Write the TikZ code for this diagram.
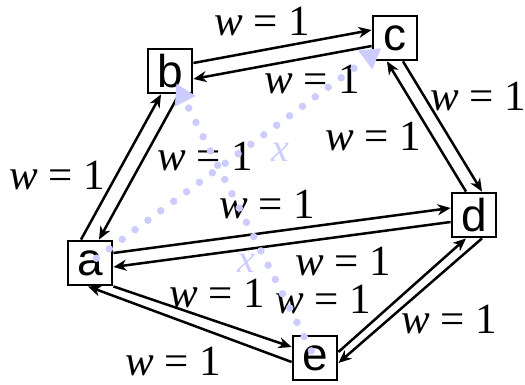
\documentclass[tikz,border=0pt]{standalone}
\usepackage{fontspec}
\setmainfont{Liberation Serif}
\newfontfamily\vertfont{Liberation Sans}
\newfontfamily\wfont{Liberation Serif}
\usetikzlibrary{arrows.meta}

\newcommand{\wone}{\textit{w}\hspace{0.25em}=\hspace{0.25em}1}

\begin{document}
\begin{tikzpicture}[x=1pt, y=-1pt,
  vert/.style={rectangle, draw, line width=2.8pt, minimum size=44pt, inner sep=0pt, font=\vertfont\fontsize{46}{46}\selectfont},
  arrow/.style={-{Stealth[length=13pt, width=11pt, inset=4pt]}, line width=2.5pt},
  wlab/.style={font=\wfont\fontsize{43}{43}\selectfont, inner sep=0pt},
  hint/.style={blue!20, line width=7.5pt, line cap=round, dash pattern=on 0pt off 16pt, -{Triangle[length=20pt, width=22pt]}},
  hintlab/.style={font=\wfont\itshape\fontsize{40}{40}\selectfont, text=blue!20, inner sep=0pt},
]
\useasboundingbox (0,0) rectangle (525,385);

% === Vertices ===
\node[vert] (a) at (90, 263) {a};
\node[vert] (b) at (170, 71) {b};
\node[vert] (c) at (395, 38) {c};
\node[vert] (d) at (474, 215) {d};
\node[vert] (e) at (315, 358) {e};

% === Edges, one per direction ===
\draw[arrow] ([xshift=-9pt]a.north) -- ([xshift=-9pt]b.south);
\draw[arrow] ([xshift=9pt]b.south) -- ([xshift=9pt]a.north);
\draw[arrow] ([yshift=8pt]b.east) -- ([yshift=8pt]c.west);
\draw[arrow] ([yshift=-8pt]c.west) -- ([yshift=-8pt]b.east);
\draw[arrow] ([xshift=8pt]c.south) -- ([xshift=8pt]d.north);
\draw[arrow] ([xshift=-8pt]d.north) -- ([xshift=-8pt]c.south);
\draw[arrow] ([yshift=10pt]a.east) -- ([yshift=7pt]d.west);
\draw[arrow] ([yshift=-7pt]d.west) -- ([yshift=-4pt]a.east);
\draw[arrow] ([xshift=8pt]d.south) -- ([yshift=-5pt]e.east);
\draw[arrow] ([yshift=6pt]e.east) -- ([xshift=-8pt]d.south);
\draw[arrow] (a.south east) -- ([yshift=11pt]e.west);
\draw[arrow] ([yshift=-4pt]e.west) -- ([xshift=-2pt]a.south);

% === Weights ===
\node[wlab] (wbc) at (262, 22) {\wone};
\node[wlab] (wcb) at (312, 80) {\wone};
\node[wlab] (wcd) at (478, 97) {\wone};
\node[wlab] (wdc) at (373, 137) {\wone};
\node[wlab] (wab) at (57, 176) {\wone};
\node[wlab] (wba) at (205, 157) {\wone};
\node[wlab] (wad) at (267, 205) {\wone};
\node[wlab] (wda) at (343, 262) {\wone};
\node[wlab] (wae) at (217, 294) {\wone};
\node[wlab] (wed) at (323, 300) {\wone};
\node[wlab] (wde) at (449, 320) {\wone};
\node[wlab] (wea) at (173, 362) {\wone};

% === Hints ===
\draw[hint, shorten <=8pt, shorten >=17pt] (a.center) -- (c.center);
\draw[hint, shorten <=8pt, shorten >=14pt] (e.center) -- (b.center);
\node[hintlab] (xac) at (280, 152) {x};
\node[hintlab] (xeb) at (246, 263) {x};

\end{tikzpicture}
\end{document}
